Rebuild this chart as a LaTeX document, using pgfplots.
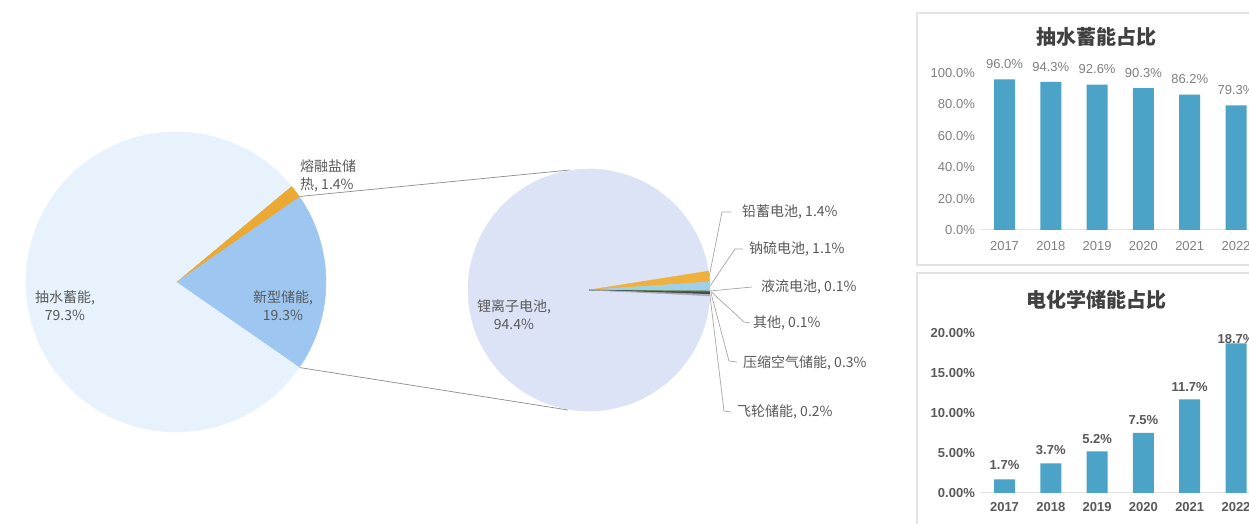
\documentclass[border=0pt]{standalone}
\usepackage{pgfplots}
\pgfplotsset{compat=1.18}
\usepackage{pgfplotstable}
\usepackage{fontspec}
\setmainfont{Liberation Sans}
\newfontfamily\cjk{Noto Sans CJK SC}
% slice colours by index
\definecolor{pc1}{HTML}{9DC6F0}% new-type storage
\definecolor{pc2}{HTML}{EBA832}% molten salt
\definecolor{pc3}{HTML}{E7F2FC}% pumped hydro
\definecolor{pc4}{HTML}{DDE3F6}% li-ion
\definecolor{pc5}{HTML}{F0B03C}% lead
\definecolor{pc6}{HTML}{9FD0EA}% NaS
\definecolor{pc7}{HTML}{8FA89A}% flow
\definecolor{pc8}{HTML}{6D8F4A}% other
\definecolor{pc9}{HTML}{3F4B52}% compressed air
\definecolor{pc10}{HTML}{A8AEB3}% flywheel
\definecolor{cBar}{HTML}{4BA3C8}
\definecolor{cTxt}{HTML}{595959}
\definecolor{cTick}{HTML}{808080}
\definecolor{cTitle}{HTML}{404040}
\definecolor{cLead2}{HTML}{A6A6A6}
\definecolor{cConn}{HTML}{8C8C8C}
\definecolor{cPanel}{HTML}{E3E3E3}

% pie data: centre, radius, start angle, share (%), degrees per %, colour index
\pgfplotstableread{
cx cy r start pct k ci
176 242 150 -34.74 19.3 3.6 1
176 242 150 34.74 1.4 3.6 2
176 242 150 39.78 79.3 3.6 3
}\leftpie
\pgfplotstableread{
cx cy r start pct k ci
589 234 121 9.000 94.4 3.6885 4
589 234 121 3.836 1.4 3.6885 5
589 234 121 -0.221 1.1 3.6885 6
589 234 121 -0.590 0.1 3.6885 7
589 234 121 -0.959 0.1 3.6885 8
589 234 121 -2.066 0.3 3.6885 9
589 234 121 -2.804 0.2 3.6885 10
}\rightpie
\pgfplotstableread{
x val dy
0 96.0 7
1 94.3 7
2 92.6 7
3 90.3 7
4 86.2 7
5 79.3 7
}\hydro
\pgfplotstableread{
x val dy
0 1.7 6
1 3.7 5
2 5.2 4
3 7.5 5
4 11.7 4
5 18.7 -4
}\echem

\pgfplotsset{pie slices/.style={scatter, only marks, mark=*, mark size=0pt,
  mark options={draw=none, fill=none},
  visualization depends on={\thisrow{r} \as \slr},
  visualization depends on={\thisrow{start} \as \slstart},
  visualization depends on={\thisrow{pct}*\thisrow{k} \as \slspan},
  visualization depends on={\thisrow{ci} \as \slci},
  scatter/@pre marker code/.code={%
    \pgfmathtruncatemacro\slcix{\slci}%
    \fill[pc\slcix, fill opacity=1] (0pt,0pt) -- (\slstart:\slr pt) arc[start angle=\slstart, delta angle=\slspan, radius=\slr pt] -- cycle;},
  scatter/@post marker code/.code={}}}

\begin{document}
\begin{tikzpicture}[x=1pt,y=1pt]
\useasboundingbox (0,0) rectangle (1249,524);
\clip (0,0) rectangle (1249,524);
\fill[white] (0,0) rectangle (1249,524);
% panels
\draw[cPanel, line width=1.2pt] (917,511) rectangle (1265,259);
\draw[cPanel, line width=1.2pt] (917,251) rectangle (1265,-10);

\begin{axis}[at={(0pt,0pt)}, anchor=south west, scale only axis,
  width=1249pt, height=524pt, xmin=0, xmax=1249, ymin=0, ymax=524,
  hide axis, clip=false]
\addplot[pie slices] table[x=cx, y=cy] {\leftpie};
\addplot[pie slices] table[x=cx, y=cy] {\rightpie};
% connectors
\addplot[no markers, color=cConn, line width=0.7pt] coordinates {(299.3,327.5) (570,354)};
\addplot[no markers, color=cConn, line width=0.7pt] coordinates {(299.3,156.5) (568,114)};
% leader lines
\addplot[no markers, color=cLead2, line width=0.7pt] coordinates {(709.2,247.5) (722,312) (731,312)};
\addplot[no markers, color=cLead2, line width=0.7pt] coordinates {(709.9,237.8) (735,275) (743,275)};
\addplot[no markers, color=cLead2, line width=0.7pt] coordinates {(711.0,233.1) (752,237)};
\addplot[no markers, color=cLead2, line width=0.7pt] coordinates {(711.0,232.4) (744,202) (750,201)};
\addplot[no markers, color=cLead2, line width=0.7pt] coordinates {(711.0,230.8) (729,163) (737,162)};
\addplot[no markers, color=cLead2, line width=0.7pt] coordinates {(709.9,228.8) (724,113) (731,112)};
\end{axis}

% pie labels (drawn after the slices)
\begin{scope}[every node/.style={font=\cjk\fontsize{14}{18}\selectfont, text=cTxt, inner sep=0pt}]
\node[align=center] at (65,218) {抽水蓄能,\\79.3\%};
\node[align=center] at (283,218) {新型储能,\\19.3\%};
\node[align=left, anchor=west] at (300,348) {熔融盐储\\热, 1.4\%};
\node[align=center] at (514,209) {锂离子电池,\\94.4\%};
\node[anchor=west] at (742,312) {铅蓄电池, 1.4\%};
\node[anchor=west] at (749,275) {钠硫电池, 1.1\%};
\node[anchor=west] at (761,237) {液流电池, 0.1\%};
\node[anchor=west] at (753,201) {其他, 0.1\%};
\node[anchor=west] at (743,161) {压缩空气储能, 0.3\%};
\node[anchor=west] at (737,112) {飞轮储能, 0.2\%};
\end{scope}

% top bar chart
\begin{axis}[at={(981.35pt,294pt)}, anchor=south west, scale only axis,
  width=277.8pt, height=157pt, xmin=-0.5, xmax=5.5, ymin=0, ymax=100,
  ybar, bar width=21pt, clip=false,
  axis x line*=bottom, axis y line*=left, y axis line style={draw=none},
  x axis line style={draw=cPanel, line width=1pt},
  major tick length=0pt,
  xtick={0,...,5}, xticklabels={2017,2018,2019,2020,2021,2022},
  ytick={0,20,...,100},
  yticklabel={\pgfmathprintnumber[fixed,fixed zerofill,precision=1,assume math mode=true]{\tick}\%},
  tick label style={font=\fontsize{13}{15}\selectfont, text=cTick},
  xticklabel style={yshift=-8pt},
  yticklabel style={xshift=-3pt},
  visualization depends on={\thisrow{dy} \as \dy},
  nodes near coords={\pgfmathprintnumber[fixed,fixed zerofill,precision=1,assume math mode=true]{\pgfplotspointmeta}\%},
  every node near coord/.append style={font=\fontsize{13}{15}\selectfont, text=cTick, yshift=\dy pt},
  ]
\addplot[fill=cBar, draw=none] table[x=x, y=val] {\hydro};
\end{axis}

% bottom bar chart
\begin{axis}[at={(981.35pt,31pt)}, anchor=south west, scale only axis,
  width=277.8pt, height=160pt, xmin=-0.5, xmax=5.5, ymin=0, ymax=20,
  ybar, bar width=21pt, clip=false,
  axis x line*=bottom, axis y line*=left, y axis line style={draw=none},
  x axis line style={draw=cPanel, line width=1pt},
  major tick length=0pt,
  xtick={0,...,5}, xticklabels={2017,2018,2019,2020,2021,2022},
  ytick={0,5,...,20},
  yticklabel={\pgfmathprintnumber[fixed,fixed zerofill,precision=2,assume math mode=true]{\tick}\%},
  tick label style={font=\fontsize{13}{15}\selectfont\bfseries, text=cTxt},
  xticklabel style={yshift=-6pt},
  yticklabel style={xshift=-3pt},
  visualization depends on={\thisrow{dy} \as \dy},
  nodes near coords={\pgfmathprintnumber[fixed,fixed zerofill,precision=1,assume math mode=true]{\pgfplotspointmeta}\%},
  every node near coord/.append style={font=\fontsize{13}{15}\selectfont\bfseries, text=cTxt, yshift=\dy pt},
  ]
\addplot[fill=cBar, draw=none] table[x=x, y=val] {\echem};
\end{axis}

% panel titles
\node[font=\cjk\bfseries\fontsize{20}{24}\selectfont, text=cTitle] at (1096,487) {抽水蓄能占比};
\node[font=\cjk\bfseries\fontsize{20}{24}\selectfont, text=cTitle] at (1096,224) {电化学储能占比};
\end{tikzpicture}
\end{document}
